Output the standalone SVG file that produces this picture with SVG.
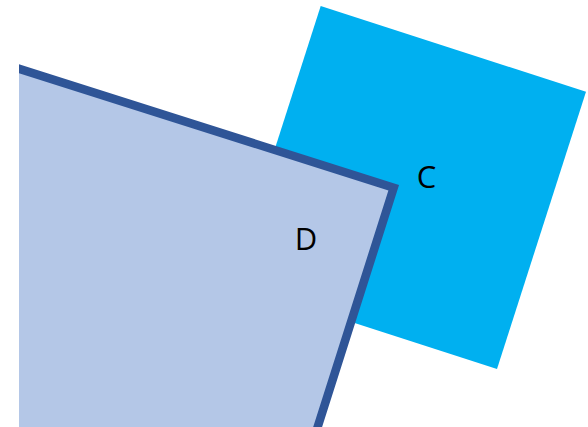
<svg xmlns="http://www.w3.org/2000/svg" width="588" height="427" viewBox="0 0 588 427">
<defs>
<style>
.lbl{font-family:"Open Sans","Liberation Sans",sans-serif;font-size:31px;fill:#000;text-anchor:middle}
</style>
<clipPath id="clip"><rect x="19" y="0" width="569" height="427"/></clipPath>
</defs>
<rect width="588" height="427" fill="#fff"/>
<g id="C">
<polygon points="320.7,6 586,91.7 497,369 231.7,283.3" fill="#00B0F0"/>
<text class="lbl" x="426.5" y="188">C</text>
</g>
<g id="D" clip-path="url(#clip)">
<polygon points="12.5,66.6 393.7,187.8 272.5,569 -108.7,447.8" fill="#B4C7E7" stroke="#2F5597" stroke-width="8.5" stroke-linejoin="miter"/>
</g>
<g id="Dlabel"><text class="lbl" x="306" y="250">D</text></g>
<g id="connectors"/>
</svg>
